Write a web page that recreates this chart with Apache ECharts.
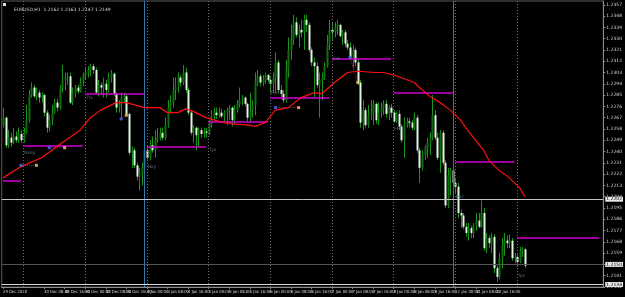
<!DOCTYPE html>
<html><head><meta charset="utf-8">
<script src="https://cdn.jsdelivr.net/npm/echarts@6/dist/echarts.min.js"></script>
<style>html,body{margin:0;padding:0;background:#000;}#c{width:625px;height:297px;}</style>
</head><body><div id="c"></div>
<script>
const symbolTitle = 'EURUSD,H1  1.2162 1.2163 1.2147 1.2149';
const totalSlots = 234;
const xTickIdx = [0,8,16,24,32,40,48,56,64,72,80,88,96,104,112,120,128,136,144,152,160,168,176,184,192,200];
const xTickLabels = ['29 Dec 2020','30 Dec 00:00','30 Dec 08:00','30 Dec 16:00','31 Dec 00:00','31 Dec 08:00','31 Dec 16:00',
  '4 Jan 00:00','4 Jan 08:00','4 Jan 16:00','5 Jan 00:00','5 Jan 08:00','5 Jan 16:00','6 Jan 00:00','6 Jan 08:00','6 Jan 16:00',
  '7 Jan 00:00','7 Jan 08:00','7 Jan 16:00','8 Jan 00:00','8 Jan 08:00','8 Jan 16:00','11 Jan 00:00','11 Jan 08:00','11 Jan 16:00','12 Jan 00:00'];
const daySepIdx = [8,32,56,80,104,128,152,176,200];
const weekSepIdx = [55,175];

const opens = [1.2261,1.2267,1.2245,1.2251,1.2247,1.2252,1.2249,1.2254,1.2249,1.2255,
1.2265,1.2285,1.2291,1.2284,1.2287,1.2283,1.2285,1.2271,1.2259,1.2265,
1.2271,1.2279,1.2275,1.2291,1.2297,1.2299,1.2300,1.2279,1.2287,1.2291,
1.2288,1.2295,1.2301,1.2303,1.2305,1.2308,1.2305,1.2287,1.2293,1.2291,
1.2294,1.2289,1.2299,1.2302,1.2286,1.2275,1.2278,1.2283,1.2284,1.2270,
1.2239,1.2241,1.2229,1.2220,1.2223,1.2227,1.2241,1.2235,1.2245,1.2241,
1.2249,1.2251,1.2255,1.2251,1.2261,1.2275,1.2279,1.2289,1.2292,1.2299,
1.2295,1.2303,1.2289,1.2271,1.2255,1.2259,1.2253,1.2257,1.2254,1.2256,
1.2255,1.2262,1.2268,1.2271,1.2269,1.2271,1.2268,1.2271,1.2273,1.2275,
1.2265,1.2273,1.2278,1.2281,1.2283,1.2278,1.2267,1.2273,1.2277,1.2295,
1.2300,1.2295,1.2297,1.2301,1.2297,1.2294,1.2299,1.2311,1.2289,1.2286,
1.2281,1.2305,1.2321,1.2329,1.2343,1.2333,1.2337,1.2335,1.2345,1.2341,
1.2321,1.2311,1.2308,1.2293,1.2297,1.2299,1.2308,1.2325,1.2337,1.2335,
1.2339,1.2341,1.2332,1.2335,1.2326,1.2323,1.2315,1.2321,1.2311,1.2295,
1.2263,1.2273,1.2261,1.2269,1.2271,1.2278,1.2265,1.2271,1.2275,1.2278,
1.2270,1.2275,1.2271,1.2264,1.2270,1.2260,1.2249,1.2261,1.2264,1.2263,
1.2259,1.2267,1.2241,1.2227,1.2237,1.2243,1.2247,1.2251,1.2269,1.2251,
1.2235,1.2255,1.2231,1.2197,1.2221,1.2225,1.2215,1.2212,1.2191,1.2189,
1.2180,1.2175,1.2179,1.2175,1.2181,1.2185,1.2180,1.2191,1.2163,1.2171,
1.2167,1.2172,1.2147,1.2140,1.2155,1.2165,1.2169,1.2167,1.2169,1.2155,
1.2156,1.2152,1.2161,1.2162];
const closes = [1.2267,1.2245,1.2251,1.2247,1.2252,1.2249,1.2254,1.2249,1.2255,1.2265,
1.2285,1.2291,1.2284,1.2287,1.2283,1.2285,1.2271,1.2259,1.2265,1.2271,
1.2279,1.2275,1.2291,1.2297,1.2299,1.2300,1.2279,1.2287,1.2291,1.2288,
1.2295,1.2301,1.2303,1.2305,1.2308,1.2305,1.2287,1.2293,1.2291,1.2294,
1.2289,1.2299,1.2302,1.2286,1.2275,1.2278,1.2283,1.2284,1.2270,1.2239,
1.2241,1.2229,1.2220,1.2223,1.2227,1.2241,1.2235,1.2245,1.2241,1.2249,
1.2251,1.2255,1.2251,1.2261,1.2275,1.2279,1.2289,1.2292,1.2299,1.2295,
1.2303,1.2289,1.2271,1.2255,1.2259,1.2253,1.2257,1.2254,1.2256,1.2255,
1.2262,1.2268,1.2271,1.2269,1.2271,1.2268,1.2271,1.2273,1.2275,1.2265,
1.2273,1.2278,1.2281,1.2283,1.2278,1.2267,1.2273,1.2277,1.2295,1.2300,
1.2295,1.2297,1.2301,1.2297,1.2294,1.2299,1.2311,1.2289,1.2286,1.2281,
1.2305,1.2321,1.2329,1.2343,1.2333,1.2337,1.2335,1.2345,1.2341,1.2321,
1.2311,1.2308,1.2293,1.2297,1.2299,1.2308,1.2325,1.2337,1.2335,1.2339,
1.2341,1.2332,1.2335,1.2326,1.2323,1.2315,1.2321,1.2311,1.2295,1.2263,
1.2273,1.2261,1.2269,1.2271,1.2278,1.2265,1.2271,1.2275,1.2278,1.2270,
1.2275,1.2271,1.2264,1.2270,1.2260,1.2249,1.2261,1.2264,1.2263,1.2259,
1.2267,1.2241,1.2227,1.2237,1.2243,1.2247,1.2251,1.2269,1.2251,1.2235,
1.2255,1.2231,1.2197,1.2221,1.2225,1.2215,1.2212,1.2191,1.2189,1.2180,
1.2175,1.2179,1.2175,1.2181,1.2185,1.2180,1.2191,1.2163,1.2171,1.2167,
1.2172,1.2147,1.2140,1.2155,1.2165,1.2169,1.2167,1.2169,1.2155,1.2156,
1.2152,1.2161,1.2162,1.2149];
const highs = [1.2275,1.2268,1.2257,1.2255,1.2259,1.2256,1.2259,1.2257,1.2259,1.2277,
1.2289,1.2295,1.2293,1.2291,1.2289,1.2287,1.2286,1.2273,1.2269,1.2277,
1.2282,1.2282,1.2293,1.2309,1.2303,1.2303,1.2303,1.2291,1.2293,1.2293,
1.2299,1.2303,1.2307,1.2308,1.2310,1.2310,1.2307,1.2297,1.2295,1.2299,
1.2297,1.2303,1.2305,1.2303,1.2287,1.2281,1.2287,1.2287,1.2286,1.2271,
1.2244,1.2243,1.2231,1.2227,1.2231,1.2243,1.2245,1.2249,1.2252,1.2257,
1.2259,1.2259,1.2259,1.2267,1.2281,1.2285,1.2299,1.2299,1.2303,1.2301,
1.2309,1.2307,1.2291,1.2273,1.2261,1.2260,1.2259,1.2259,1.2259,1.2259,
1.2265,1.2273,1.2275,1.2275,1.2275,1.2274,1.2273,1.2275,1.2277,1.2276,
1.2277,1.2281,1.2291,1.2285,1.2284,1.2279,1.2287,1.2281,1.2303,1.2305,
1.2302,1.2301,1.2303,1.2302,1.2299,1.2303,1.2319,1.2313,1.2293,1.2289,
1.2313,1.2331,1.2341,1.2349,1.2347,1.2341,1.2345,1.2349,1.2349,1.2343,
1.2323,1.2315,1.2311,1.2303,1.2303,1.2311,1.2333,1.2345,1.2343,1.2343,
1.2345,1.2342,1.2337,1.2337,1.2329,1.2327,1.2325,1.2323,1.2313,1.2297,
1.2281,1.2275,1.2277,1.2281,1.2281,1.2279,1.2279,1.2279,1.2281,1.2281,
1.2277,1.2278,1.2273,1.2272,1.2273,1.2262,1.2267,1.2267,1.2267,1.2265,
1.2271,1.2269,1.2243,1.2241,1.2245,1.2251,1.2255,1.2285,1.2273,1.2255,
1.2257,1.2257,1.2233,1.2227,1.2227,1.2227,1.2219,1.2215,1.2194,1.2191,
1.2183,1.2183,1.2181,1.2183,1.2191,1.2191,1.2201,1.2195,1.2175,1.2173,
1.2175,1.2174,1.2149,1.2159,1.2171,1.2175,1.2173,1.2174,1.2171,1.2159,
1.2158,1.2164,1.2164,1.2163];
const lows = [1.2259,1.2243,1.2243,1.2244,1.2246,1.2247,1.2247,1.2247,1.2247,1.2254,
1.2263,1.2283,1.2283,1.2281,1.2279,1.2279,1.2268,1.2255,1.2256,1.2261,
1.2270,1.2272,1.2273,1.2287,1.2289,1.2293,1.2278,1.2277,1.2283,1.2286,
1.2287,1.2292,1.2297,1.2299,1.2300,1.2302,1.2286,1.2284,1.2285,1.2283,
1.2283,1.2287,1.2295,1.2284,1.2271,1.2271,1.2267,1.2279,1.2268,1.2237,
1.2227,1.2227,1.2217,1.2209,1.2213,1.2223,1.2233,1.2233,1.2239,1.2235,
1.2247,1.2249,1.2249,1.2249,1.2259,1.2271,1.2275,1.2281,1.2287,1.2292,
1.2293,1.2287,1.2269,1.2253,1.2247,1.2241,1.2243,1.2251,1.2251,1.2251,
1.2253,1.2259,1.2265,1.2266,1.2267,1.2267,1.2263,1.2261,1.2265,1.2260,
1.2262,1.2271,1.2275,1.2277,1.2276,1.2264,1.2263,1.2267,1.2269,1.2292,
1.2292,1.2292,1.2294,1.2295,1.2287,1.2287,1.2287,1.2287,1.2283,1.2279,
1.2279,1.2299,1.2313,1.2325,1.2331,1.2323,1.2331,1.2321,1.2335,1.2319,
1.2308,1.2283,1.2291,1.2267,1.2281,1.2297,1.2307,1.2321,1.2329,1.2331,
1.2333,1.2331,1.2325,1.2323,1.2321,1.2313,1.2307,1.2308,1.2293,1.2259,
1.2257,1.2259,1.2259,1.2265,1.2261,1.2262,1.2261,1.2267,1.2269,1.2267,
1.2265,1.2267,1.2263,1.2263,1.2257,1.2247,1.2235,1.2259,1.2259,1.2257,
1.2257,1.2239,1.2215,1.2225,1.2233,1.2235,1.2237,1.2249,1.2249,1.2233,
1.2223,1.2229,1.2195,1.2195,1.2205,1.2209,1.2207,1.2187,1.2179,1.2178,
1.2172,1.2169,1.2171,1.2171,1.2177,1.2179,1.2179,1.2161,1.2159,1.2163,
1.2159,1.2143,1.2136,1.2138,1.2147,1.2157,1.2163,1.2163,1.2153,1.2151,
1.2148,1.2151,1.2156,1.2147];

const maIdx = [0,7,15,23,30,34,38,44,48,55,61,64,68,71,74,79,84,89,96,98,102,106,111,116,121,124,129,134,138,145,148,152,156,160,162,166,170,174,178,180,183,187,189,193,197,201,203];
const maVal = [1.2219,1.2228,1.2235,1.2247,1.2257,1.2267,1.2273,1.2279,1.2279,1.2275,
1.2275,1.2271,1.2271,1.2274,1.2272,1.2267,1.2264,1.2262,1.2261,1.2260,
1.2263,1.2273,1.2275,1.2283,1.2287,1.2286,1.2295,1.2303,1.2304,1.2303,
1.2303,1.2301,1.2298,1.2295,1.2291,1.2284,1.2279,1.2273,1.2265,1.2259,
1.2251,1.2241,1.2233,1.2225,1.2219,1.2211,1.2204];

const levelStart = [0,8,32,56,80,104,128,152,176,200];
const levelEnd = [7,31,55,79,103,127,151,175,199,232];
const levelPrice = [1.2217,1.2245,1.2286,1.2244,1.2264,1.2283,1.2314,1.2287,1.2232,1.2171];

const hLinePrices = [1.2202,1.2150,1.2134];
const hLineColors = ['#c4c4c4','#555555','#d8d8d8'];

const tradeOpenIdx = [7,18,46,106,135];
const tradeOpenPrice = [1.2229,1.2243,1.2266,1.2275,1.2315];
const tradeCloseIdx = [13,24,48,115,138];
const tradeClosePrice = [1.2229,1.2243,1.2269,1.2275,1.2295];

const noteIdx = [8,32,56,80,104,128,152,176,200];
const notePrice = [1.2239,1.2283,1.2228,1.2241,1.2287,1.2314,1.2258,1.2204,1.2141];
const noteText = ['Nsop','Ttx','Nxy','Tyx','Fed','Fxs','FFs','Bxt','Tyx'];

const cats = Array.from({length: totalSlots}, (_, i) => String(i));
const tickSet = new Set(xTickIdx);
const tickLabelMap = {};
xTickIdx.forEach((v, k) => tickLabelMap[v] = xTickLabels[k]);

const FONT = 'DejaVu Sans';
const NARROW = '"Liberation Sans Narrow", "DejaVu Sans Condensed", "DejaVu Sans"';
const WICK = '#179717';
const BULL = '#0c6f0c';
const BEAR = '#dcf7dc';

const chart = echarts.init(document.getElementById('c'), null, {renderer: 'canvas'});

const markData = [];
daySepIdx.forEach(i => markData.push({xAxis: i, lineStyle: {color: '#6e6e6e', type: [1, 2], width: 1}, label: {show: false}}));
weekSepIdx.forEach(i => markData.push({xAxis: i, lineStyle: {color: '#2c7cb0', type: 'solid', width: 1}, label: {show: false}}));
hLinePrices.forEach((p, k) => markData.push({yAxis: p, lineStyle: {color: hLineColors[k], type: 'solid', width: 1},
  label: {show: true, position: 'end', distance: 2, formatter: p.toFixed(4), color: '#000', backgroundColor: '#e8e8e8',
    fontSize: 4.5, fontFamily: FONT, padding: [0, 1]}}));
levelPrice.forEach((p, k) => markData.push([
  {coord: [levelStart[k], p], lineStyle: {color: '#d000d0', width: 1.5, type: 'solid'}, label: {show: false}},
  {coord: [levelEnd[k], p], lineStyle: {color: '#d000d0', width: 1.5, type: 'solid'}, label: {show: false}}]));

function renderCandle(params, api) {
  const i = api.value(0);
  const o = api.value(1), c = api.value(2), l = api.value(3), h = api.value(4);
  const pO = api.coord([i, o]), pC = api.coord([i, c]), pL = api.coord([i, l]), pH = api.coord([i, h]);
  const xc = Math.round(pO[0]);
  const top = Math.min(pO[1], pC[1]);
  const hgt = Math.max(Math.abs(pO[1] - pC[1]), 1);
  const bull = c >= o;
  return {
    type: 'group',
    children: [
      {type: 'line', shape: {x1: xc + 0.5, y1: pH[1], x2: xc + 0.5, y2: pL[1]}, style: {stroke: WICK, lineWidth: 1}},
      {type: 'rect', shape: {x: xc - 0.5, y: top, width: 2, height: hgt},
        style: {fill: bull ? BULL : BEAR, stroke: null}}
    ]
  };
}

const series = [
  {
    type: 'custom', name: 'EURUSD',
    renderItem: renderCandle,
    data: opens.map((o, i) => [i, o, closes[i], lows[i], highs[i]]),
    encode: {x: 0, y: [1, 2, 3, 4]},
    clip: true, z: 2,
    markLine: {silent: true, precision: 4, symbol: ['none', 'none'], animation: false, data: markData}
  },
  {
    type: 'line', name: 'MA',
    data: maIdx.map((x, i) => [x, maVal[i]]),
    showSymbol: false, symbol: 'none', lineStyle: {color: '#ff1010', width: 1.2}, z: 5
  }
];
tradeOpenIdx.forEach((x, k) => series.push({
  type: 'line', data: [[x, tradeOpenPrice[k]], [tradeCloseIdx[k], tradeClosePrice[k]]],
  symbol: 'none', lineStyle: {color: '#b03030', width: 1, type: [1, 1]}, z: 6
}));
series.push({type: 'scatter', data: tradeOpenIdx.map((x, k) => [x, tradeOpenPrice[k]]),
  symbol: 'rect', symbolSize: 3, itemStyle: {color: '#4a6cff'}, z: 7});
series.push({type: 'scatter', data: tradeCloseIdx.map((x, k) => [x, tradeClosePrice[k]]),
  symbol: 'rect', symbolSize: 3, itemStyle: {color: '#ffc870'}, z: 7});
series.push({type: 'scatter', data: noteIdx.map((x, k) => [x, notePrice[k]]),
  symbolSize: 1, itemStyle: {color: 'rgba(0,0,0,0)'}, z: 8,
  label: {show: true, position: 'right', distance: 0, formatter: p => noteText[p.dataIndex],
    color: '#6c8fa0', fontSize: 4.5, fontFamily: FONT}});

chart.setOption({
  backgroundColor: '#000',
  animation: false,
  title: {text: symbolTitle, left: 9, top: 2,
    textStyle: {color: '#d8d8d8', fontSize: 4.5, fontWeight: 'normal', fontFamily: FONT}},
  graphic: [{type: 'rect', shape: {x: 3, y: 3, width: 3, height: 3}, style: {fill: '#e0e0e0'}}],
  grid: {left: 0, right: 16, top: 1, bottom: 10, show: true, borderColor: '#5a5a5a', borderWidth: 1, backgroundColor: '#000'},
  xAxis: {
    type: 'category', data: cats, boundaryGap: true,
    axisLine: {show: true, lineStyle: {color: '#8a8a8a'}},
    axisTick: {show: true, length: 2, alignWithLabel: true, interval: (i) => tickSet.has(i), lineStyle: {color: '#8a8a8a'}},
    axisLabel: {interval: (i) => tickSet.has(i), formatter: (v, i) => tickLabelMap[i] || '', showMinLabel: true,
      hideOverlap: false, color: '#d8d8d8', fontSize: 4.2, fontFamily: NARROW, align: 'left', margin: 3},
    splitLine: {show: false}
  },
  yAxis: {
    type: 'value', position: 'right', min: 1.2132, max: 1.2360, interval: 0.0009, scale: true,
    axisLine: {show: true, lineStyle: {color: '#8a8a8a'}},
    axisTick: {show: true, length: 2, lineStyle: {color: '#8a8a8a'}},
    axisLabel: {formatter: v => v.toFixed(4), color: '#d8d8d8', fontSize: 4.5, fontFamily: FONT, margin: 3},
    splitLine: {show: false}
  },
  series: series
});
</script>
</body></html>
